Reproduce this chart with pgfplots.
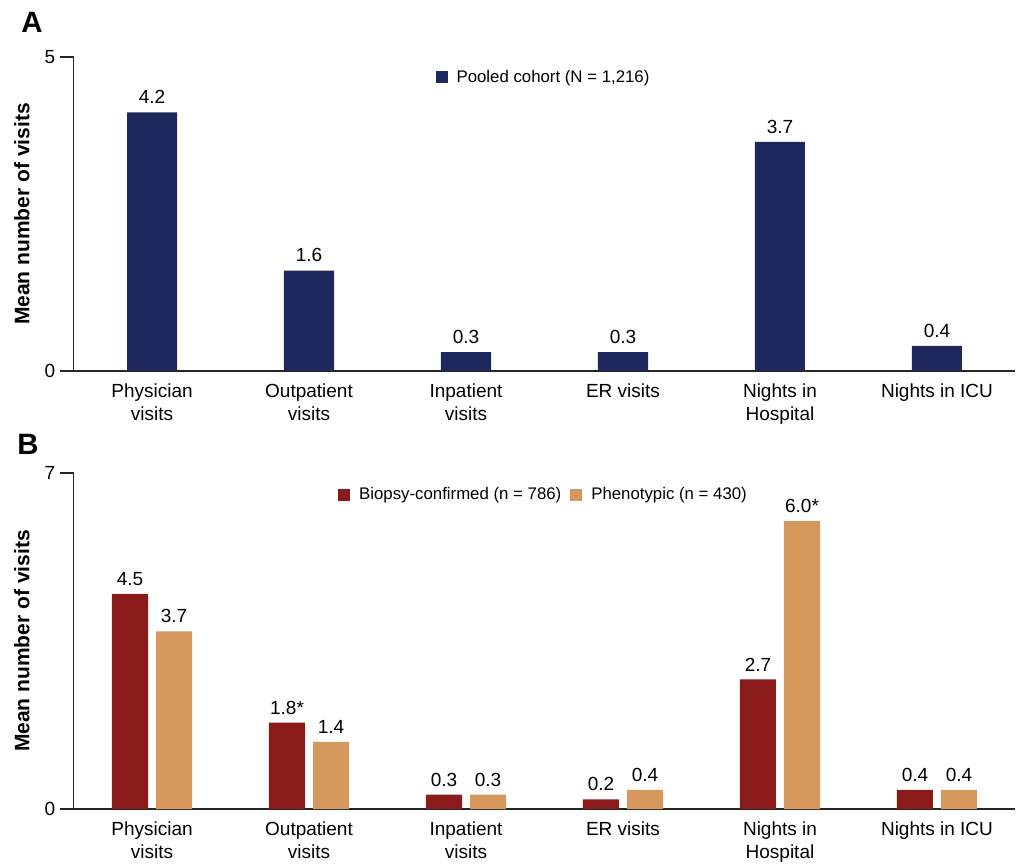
\documentclass[border=0pt]{standalone}
\usepackage{pgfplots}
\pgfplotsset{compat=1.18}
\usepackage{fontspec}
\setmainfont{Liberation Sans}
\definecolor{navy}{RGB}{30,40,92}
\definecolor{brick}{RGB}{139,26,27}
\definecolor{tanc}{RGB}{214,152,92}
\pgfplotsset{
 sqlegend/.style={legend image code/.code={\fill[##1] (0pt,-3pt) rectangle (6pt,3pt);}},
 base/.style={
  scale only axis, width=471pt,
  xmin=-0.5, xmax=5.5, ymin=0,
  axis x line*=bottom, axis y line*=left,
  axis line style={line width=0.75pt, black!85},
  xtick={0,...,5},
  xticklabels={{Physician\\visits},{Outpatient\\visits},{Inpatient\\visits},{ER visits},{Nights in\\Hospital},{Nights in ICU}},
  x tick label style={align=center, font=\fontsize{9.5}{11.5}\selectfont, inner sep=0pt, yshift=-6pt},
  major x tick style={draw=none},
  ytick align=outside, major tick length=6.5pt,
  y tick style={line width=0.75pt, black!85},
  y tick label style={font=\fontsize{9.5}{11}\selectfont, inner sep=0pt, xshift=-2.5pt},
  /pgf/number format/assume math mode=true,
  ylabel={Mean number of visits},
  y label style={font=\bfseries\fontsize{10.5}{12}\selectfont, at={(axis description cs:-0.0547,0.5)}, anchor=center},
  legend style={draw=none, fill=none, at={(0.5,0.935)}, anchor=center, font=\fontsize{8.4}{10}\selectfont, legend columns=-1,
    /tikz/every odd column/.append style={column sep=2.5pt},
    /tikz/every even column/.append style={column sep=2.5pt}},
  nodes near coords style={font=\fontsize{9.5}{11}\selectfont, inner sep=0pt, yshift=4pt, black},
  clip=false,
 }
}
\begin{document}
\begin{tikzpicture}
\path[use as bounding box] (0,0) rectangle (508.5pt,-431.5pt);
\node[font=\bfseries\fontsize{14.7}{16}\selectfont] at (16pt,-11pt) {A};
\node[font=\bfseries\fontsize{14.7}{16}\selectfont] at (14pt,-222pt) {B};
\begin{axis}[base, at={(36.75pt,-185.5pt)}, anchor=south west, height=157pt, ymax=5, ytick={0,5}]
\addplot[ybar, bar width=25pt, fill=navy, draw=none, nodes near coords, point meta=explicit symbolic, sqlegend]
  table[meta=l] {
x y l
0 4.12 4.2
1 1.6 1.6
2 0.3 0.3
3 0.3 0.3
4 3.65 3.7
5 0.4 0.4
};
\addlegendentry{Pooled cohort (N = 1,216)}
\end{axis}
\begin{axis}[base, at={(36.75pt,-404.5pt)}, anchor=south west, height=168pt, ymax=7, ytick={0,7}]
\addplot[ybar, bar width=18pt, bar shift=-11pt, fill=brick, draw=none, nodes near coords, point meta=explicit symbolic, sqlegend,
  every node near coord/.append style={xshift=-11pt}]
  table[meta=l] {
x y l
0 4.48 4.5
1 1.8 1.8*
2 0.3 0.3
3 0.2 0.2
4 2.7 2.7
5 0.4 0.4
};
\addlegendentry{Biopsy-confirmed (n = 786)}
\addplot[ybar, bar width=18pt, bar shift=11pt, fill=tanc, draw=none, nodes near coords, point meta=explicit symbolic, sqlegend,
  every node near coord/.append style={xshift=11pt}]
  table[meta=l] {
x y l
0 3.7 3.7
1 1.4 1.4
2 0.3 0.3
3 0.4 0.4
4 6.0 6.0*
5 0.4 0.4
};
\addlegendentry{Phenotypic (n = 430)}
\end{axis}
\end{tikzpicture}
\end{document}
